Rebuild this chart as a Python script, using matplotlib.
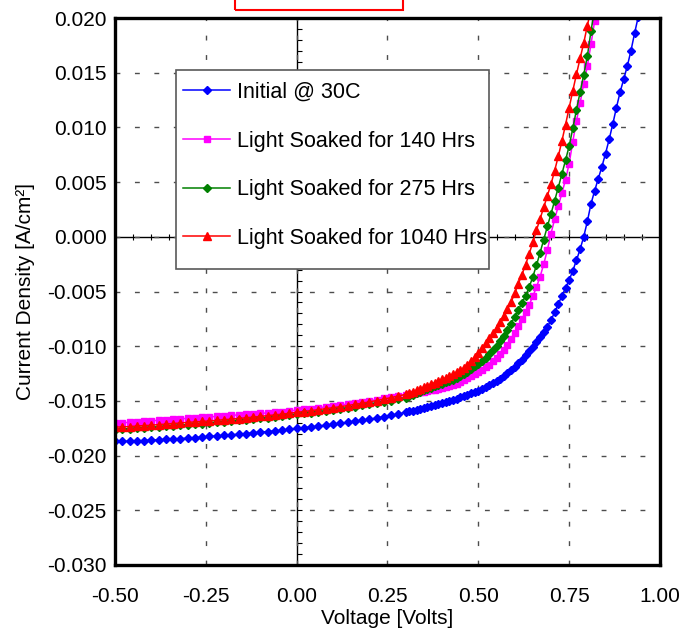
import matplotlib
matplotlib.use("Agg")
import matplotlib.pyplot as plt
from matplotlib.ticker import MultipleLocator, NullFormatter
from matplotlib.patches import Rectangle

plt.rcParams['font.family'] = ['Liberation Sans', 'DejaVu Sans']

# voltage sweep (coarse steps in the flat part, fine steps near the knee)
volts_coarse = [-0.50, -0.48, -0.46, -0.44, -0.42, -0.40, -0.38, -0.36, -0.34, -0.32,
                -0.30, -0.28, -0.26, -0.24, -0.22, -0.20, -0.18, -0.16, -0.14, -0.12,
                -0.10, -0.08, -0.06, -0.04, -0.02, 0.00, 0.02, 0.04, 0.06, 0.08,
                0.10, 0.12, 0.14, 0.16, 0.18, 0.20, 0.22, 0.24, 0.26, 0.28,
                0.30]
volts_fine = [0.31, 0.32, 0.33, 0.34, 0.35, 0.36, 0.37, 0.38, 0.39, 0.40,
              0.41, 0.42, 0.43, 0.44, 0.45, 0.46, 0.47, 0.48, 0.49, 0.50,
              0.51, 0.52, 0.53, 0.54, 0.55, 0.56, 0.57, 0.58, 0.59, 0.60,
              0.61, 0.62, 0.63, 0.64, 0.65, 0.66, 0.67, 0.68, 0.69, 0.70,
              0.71, 0.72, 0.73, 0.74, 0.75, 0.76, 0.77, 0.78, 0.79, 0.80,
              0.81, 0.82, 0.83, 0.84, 0.85, 0.86, 0.87, 0.88, 0.89, 0.90,
              0.91, 0.92, 0.93, 0.94, 0.95]
voltage = volts_coarse + volts_fine

# current density [A/cm2]
j_initial = [-0.01870, -0.01870, -0.01868, -0.01865, -0.01862, -0.01858, -0.01855, -0.01852, -0.01848, -0.01845,
             -0.01840, -0.01835, -0.01830, -0.01825, -0.01820, -0.01815, -0.01810, -0.01805, -0.01798, -0.01792,
             -0.01786, -0.01780, -0.01775, -0.01768, -0.01760, -0.01752, -0.01745, -0.01738, -0.01730, -0.01722,
             -0.01714, -0.01705, -0.01697, -0.01688, -0.01678, -0.01668, -0.01656, -0.01644, -0.01632, -0.01618,
             -0.01604,
             -0.01596, -0.01588, -0.01580, -0.01572, -0.01564, -0.01556, -0.01547, -0.01538, -0.01529, -0.01520,
             -0.01510, -0.01500, -0.01490, -0.01479, -0.01468, -0.01457, -0.01445, -0.01432, -0.01419, -0.01405,
             -0.01390, -0.01374, -0.01357, -0.01338, -0.01318, -0.01296, -0.01273, -0.01248, -0.01221, -0.01191,
             -0.01158, -0.01122, -0.01084, -0.01044, -0.01003, -0.00960, -0.00918, -0.00872, -0.00823, -0.00762,
             -0.00690, -0.00615, -0.00540, -0.00468, -0.00395, -0.00310, -0.00215, -0.00115, 0.00000, 0.00140,
             0.00300, 0.00420, 0.00530, 0.00640, 0.00760, 0.00890, 0.01030, 0.01180, 0.01320, 0.01440,
             0.01560, 0.01700, 0.01860, 0.02010, 0.02150]

j_140h = [-0.01705, -0.01700, -0.01696, -0.01691, -0.01687, -0.01682, -0.01678, -0.01673, -0.01669, -0.01664,
          -0.01660, -0.01655, -0.01651, -0.01646, -0.01642, -0.01637, -0.01633, -0.01628, -0.01624, -0.01619,
          -0.01615, -0.01609, -0.01603, -0.01597, -0.01591, -0.01585, -0.01578, -0.01571, -0.01563, -0.01555,
          -0.01547, -0.01538, -0.01529, -0.01519, -0.01509, -0.01499, -0.01489, -0.01478, -0.01467, -0.01456,
          -0.01445,
          -0.01440, -0.01434, -0.01428, -0.01422, -0.01415, -0.01409, -0.01403, -0.01397, -0.01391, -0.01384,
          -0.01375, -0.01366, -0.01356, -0.01343, -0.01329, -0.01313, -0.01295, -0.01276, -0.01256, -0.01236,
          -0.01215, -0.01193, -0.01168, -0.01138, -0.01105, -0.01070, -0.01032, -0.00985, -0.00932, -0.00875,
          -0.00815, -0.00752, -0.00688, -0.00620, -0.00545, -0.00460, -0.00365, -0.00250, -0.00120, 0.00030,
          0.00160, 0.00280, 0.00400, 0.00520, 0.00670, 0.00870, 0.01060, 0.01220, 0.01400, 0.01560,
          0.01760, 0.01970, 0.02160]

j_275h = [-0.01762, -0.01758, -0.01754, -0.01750, -0.01746, -0.01742, -0.01738, -0.01733, -0.01728, -0.01723,
          -0.01718, -0.01713, -0.01708, -0.01703, -0.01697, -0.01691, -0.01685, -0.01679, -0.01673, -0.01666,
          -0.01660, -0.01653, -0.01646, -0.01639, -0.01631, -0.01623, -0.01615, -0.01607, -0.01598, -0.01590,
          -0.01581, -0.01572, -0.01562, -0.01552, -0.01542, -0.01531, -0.01520, -0.01509, -0.01497, -0.01484,
          -0.01470,
          -0.01457, -0.01444, -0.01430, -0.01417, -0.01403, -0.01391, -0.01379, -0.01367, -0.01355, -0.01343,
          -0.01331, -0.01320, -0.01310, -0.01292, -0.01274, -0.01255, -0.01234, -0.01210, -0.01185, -0.01160,
          -0.01132, -0.01104, -0.01072, -0.01035, -0.00995, -0.00952, -0.00908, -0.00855, -0.00795, -0.00730,
          -0.00668, -0.00605, -0.00540, -0.00460, -0.00365, -0.00260, -0.00145, -0.00025, 0.00095, 0.00210,
          0.00330, 0.00450, 0.00575, 0.00700, 0.00830, 0.00990, 0.01160, 0.01320, 0.01480, 0.01650,
          0.01880, 0.02080]

j_1040h = [-0.01740, -0.01738, -0.01735, -0.01730, -0.01726, -0.01722, -0.01717, -0.01712, -0.01707, -0.01702,
           -0.01697, -0.01692, -0.01688, -0.01683, -0.01678, -0.01672, -0.01667, -0.01661, -0.01655, -0.01648,
           -0.01642, -0.01635, -0.01628, -0.01621, -0.01613, -0.01605, -0.01597, -0.01589, -0.01580, -0.01571,
           -0.01562, -0.01553, -0.01543, -0.01532, -0.01521, -0.01509, -0.01497, -0.01484, -0.01470, -0.01455,
           -0.01440,
           -0.01428, -0.01415, -0.01402, -0.01389, -0.01375, -0.01361, -0.01347, -0.01333, -0.01318, -0.01302,
           -0.01290, -0.01273, -0.01255, -0.01237, -0.01218, -0.01198, -0.01168, -0.01135, -0.01100, -0.01062,
           -0.01020, -0.00975, -0.00928, -0.00880, -0.00830, -0.00777, -0.00721, -0.00662, -0.00600, -0.00515,
           -0.00430, -0.00345, -0.00255, -0.00155, -0.00050, 0.00060, 0.00165, 0.00270, 0.00375, 0.00480,
           0.00605, 0.00735, 0.00875, 0.01025, 0.01180, 0.01335, 0.01485, 0.01630, 0.01770, 0.01930,
           0.02080]

x_ticks = [-0.50, -0.25, 0.00, 0.25, 0.50, 0.75, 1.00]
x_tick_labels = ['-0.50', '-0.25', '0.00', '0.25', '0.50', '0.75', '1.00']
y_ticks = [-0.030, -0.025, -0.020, -0.015, -0.010, -0.005, 0.000, 0.005, 0.010, 0.015, 0.020]
y_tick_labels = ['-0.030', '-0.025', '-0.020', '-0.015', '-0.010', '-0.005',
                 '0.000', '0.005', '0.010', '0.015', '0.020']

fig = plt.figure(figsize=(6.85, 6.31), dpi=100, facecolor='white')
rect = [115 / 685, 1 - 565 / 631, 545 / 685, 547 / 631]

# axes crossing at zero (drawn underneath, like the Excel original)
ax0 = fig.add_axes(rect, zorder=0)
ax0.set_xlim(-0.5, 1.0)
ax0.set_ylim(-0.03, 0.02)
ax0.spines['left'].set_position(('data', 0))
ax0.spines['bottom'].set_position(('data', 0))
ax0.spines['top'].set_visible(False)
ax0.spines['right'].set_visible(False)
for s in ('left', 'bottom'):
    ax0.spines[s].set_linewidth(1.0)
ax0.yaxis.set_major_locator(MultipleLocator(0.005))
ax0.yaxis.set_minor_locator(MultipleLocator(0.001))
ax0.xaxis.set_major_locator(MultipleLocator(0.25))
ax0.xaxis.set_minor_locator(MultipleLocator(0.05))
ax0.tick_params(axis='y', which='both', direction='in', length=3.5, width=0.8)
ax0.tick_params(axis='x', which='both', direction='inout', length=4.5, width=0.8)
ax0.xaxis.set_major_formatter(NullFormatter())
ax0.yaxis.set_major_formatter(NullFormatter())

ax = fig.add_axes(rect, zorder=1)
ax.patch.set_visible(False)

ax.plot(voltage[:len(j_initial)], j_initial, color='#0000FF', marker='D', markersize=4,
        linewidth=1.1, label='Initial @ 30C')
ax.plot(voltage[:len(j_140h)], j_140h, color='#FF00FF', marker='s', markersize=4.6,
        linewidth=1.1, label='Light Soaked for 140 Hrs')
ax.plot(voltage[:len(j_275h)], j_275h, color='#008000', marker='D', markersize=4,
        linewidth=1.1, label='Light Soaked for 275 Hrs')
ax.plot(voltage[:len(j_1040h)], j_1040h, color='#FF0000', marker='^', markersize=5.2,
        linewidth=1.1, label='Light Soaked for 1040 Hrs')

ax.set_xlim(-0.5, 1.0)
ax.set_ylim(-0.03, 0.02)
ax.set_xticks(x_ticks)
ax.set_xticklabels(x_tick_labels)
ax.set_yticks(y_ticks)
ax.set_yticklabels(y_tick_labels)
ax.tick_params(axis='both', length=0, labelsize=15)
ax.tick_params(axis='x', pad=16)
ax.tick_params(axis='y', pad=6)
ax.grid(True, color='0.3', linewidth=1.0, linestyle=(0, (3.5, 10.5)))
for s in ax.spines.values():
    s.set_linewidth(2.4)
    s.set_color('black')

ax.set_xlabel('Voltage [Volts]', fontsize=15, labelpad=2)
ax.set_ylabel('Current Density [A/cm²]', fontsize=15, labelpad=9)

# legend box like the original: white panel with a grey frame
ax.add_patch(Rectangle((61 / 545, 296 / 547), 313 / 545, 199 / 547, transform=ax.transAxes,
                       facecolor='white', edgecolor='0.35', linewidth=1.2, zorder=4.9))
leg = ax.legend(loc='upper left', bbox_to_anchor=(68 / 545, 483 / 547), borderaxespad=0,
                fontsize=15.5, frameon=False, borderpad=0, labelspacing=1.28,
                handlelength=2.2, handletextpad=0.3)
leg.set_zorder(5)

# red box cut off at the top of the picture
fig.patches.append(Rectangle((235 / 685, 1 - 10 / 631), 168 / 685, 0.1,
                             transform=fig.transFigure, fill=False,
                             edgecolor='#FF0000', linewidth=1.5))

fig.savefig('out.png', dpi=100, facecolor='white')
